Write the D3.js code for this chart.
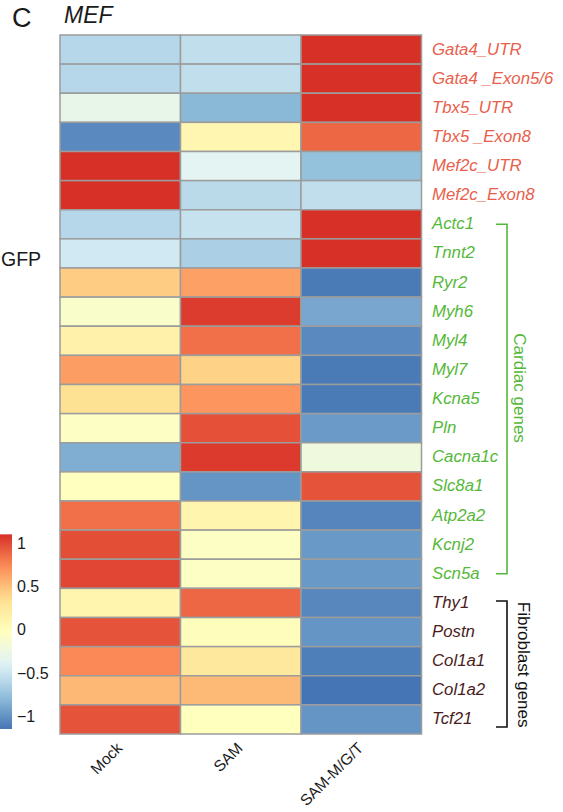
<!DOCTYPE html>
<html>
<head>
<meta charset="utf-8">
<script src="https://cdn.jsdelivr.net/npm/d3@7"></script>
<style>
  html, body { margin: 0; padding: 0; background: #ffffff; }
  svg { display: block; }
  text { font-family: "Liberation Sans", Arial, Helvetica, sans-serif; }
</style>
</head>
<body>
<svg id="chart" width="563" height="812"></svg>
<script>
// Row-scaled expression (z-scores) per gene across the three conditions
const conditions = ["Mock", "SAM", "SAM-M/G/T"];
const genes = [
  "Gata4_UTR", "Gata4 _Exon5/6", "Tbx5_UTR", "Tbx5 _Exon8", "Mef2c_UTR", "Mef2c_Exon8",
  "Actc1", "Tnnt2", "Ryr2", "Myh6", "Myl4", "Myl7", "Kcna5", "Pln", "Cacna1c",
  "Slc8a1", "Atp2a2", "Kcnj2", "Scn5a",
  "Thy1", "Postn", "Col1a1", "Col1a2", "Tcf21"
];
const mockValues = [-0.60, -0.60, -0.30, -1.05, 1.10, 1.10, -0.60, -0.47, 0.44, -0.10, 0.14, 0.65,
  0.33, -0.06, -0.86, -0.03, 0.84, 0.98, 1.01, 0.10, 0.96, 0.74, 0.53, 0.96];
const samValues = [-0.55, -0.55, -0.81, 0.08, -0.36, -0.58, -0.52, -0.65, 0.64, 1.05, 0.84, 0.41,
  0.69, 0.97, 1.06, -0.99, 0.10, -0.05, -0.06, 0.88, 0.00, 0.25, 0.52, -0.02];
const mgtValues = [1.10, 1.10, 1.10, 0.88, -0.76, -0.55, 1.10, 1.10, -1.12, -0.90, -1.05, -1.12,
  -1.12, -0.96, -0.22, 0.96, -1.07, -0.97, -0.97, -1.06, -0.99, -1.10, -1.15, -0.99];
const legendTicks = [1, 0.5, 0, -0.5, -1];

// Gene groups (colour of row labels and side brackets)
const markerGenes = ["Gata4_UTR", "Gata4 _Exon5/6", "Tbx5_UTR", "Tbx5 _Exon8", "Mef2c_UTR", "Mef2c_Exon8"];
const cardiacGenes = ["Actc1", "Tnnt2", "Ryr2", "Myh6", "Myl4", "Myl7", "Kcna5", "Pln", "Cacna1c",
  "Slc8a1", "Atp2a2", "Kcnj2", "Scn5a"];
const fibroblastGenes = ["Thy1", "Postn", "Col1a1", "Col1a2", "Tcf21"];

const palette = ["#4575B4", "#91BFDB", "#E0F3F8", "#FFFFBF", "#FEE090", "#FC8D59", "#D73027"];
const markerColor = "#E8604C", cardiacColor = "#55B83A", fibroColor = "#4A1C1C";

const seriesByCondition = [mockValues, samValues, mgtValues];
const cells = [];
genes.forEach((g, i) => conditions.forEach((c, j) => cells.push({ gene: g, cond: c, value: seriesByCondition[j][i] })));

const svg = d3.select("#chart");

const x = d3.scaleBand().domain(conditions).range([60, 421.5]).padding(0);
const y = d3.scaleBand().domain(genes).range([35, 734]).padding(0);

const [vmin, vmax] = d3.extent(cells, d => d.value);
const color = d3.scaleLinear()
  .domain(palette.map((_, k) => vmin + k * (vmax - vmin) / (palette.length - 1)))
  .range(palette)
  .interpolate(d3.interpolateRgb);

// Heatmap cells
svg.append("g").selectAll("rect").data(cells).join("rect")
  .attr("x", d => x(d.cond))
  .attr("y", d => y(d.gene))
  .attr("width", x.bandwidth())
  .attr("height", y.bandwidth())
  .attr("fill", d => color(d.value))
  .attr("stroke", "#9c9c9c")
  .attr("stroke-width", 1.5);

// Row labels
const labelColor = g => markerGenes.includes(g) ? markerColor : cardiacGenes.includes(g) ? cardiacColor : fibroColor;
svg.append("g").selectAll("text").data(genes).join("text")
  .attr("x", 432)
  .attr("y", g => y(g) + y.bandwidth() / 2)
  .attr("dy", "0.3em")
  .attr("font-size", 16.8)
  .attr("font-style", "italic")
  .attr("fill", g => labelColor(g))
  .style("white-space", "pre")
  .text(g => g);

// Column labels
svg.append("g").selectAll("text").data(conditions).join("text")
  .attr("transform", c => `translate(${x(c) + x.bandwidth() / 2 + 3},749) rotate(-45)`)
  .attr("text-anchor", "end")
  .attr("font-size", 15.5)
  .attr("fill", "#1a1a1a")
  .text(c => c);

// Group brackets
const mid = g => y(g) + y.bandwidth() / 2;
function bracket(top, bottom, stroke) {
  svg.append("path")
    .attr("d", `M496,${top}H507V${bottom}H496`)
    .attr("fill", "none")
    .attr("stroke", stroke)
    .attr("stroke-width", 1.6);
}
bracket(mid("Actc1"), mid("Scn5a"), cardiacColor);
bracket(mid("Thy1") - 2, mid("Tcf21") + 7.5, "#111");

svg.append("text")
  .attr("transform", `translate(519,${(mid("Actc1") + mid("Scn5a")) / 2 - 11}) rotate(90)`)
  .attr("text-anchor", "middle")
  .attr("dominant-baseline", "central")
  .attr("font-size", 17)
  .attr("fill", cardiacColor)
  .text("Cardiac genes");

svg.append("text")
  .attr("transform", `translate(523,${(mid("Thy1") + mid("Tcf21")) / 2 + 3.5}) rotate(90)`)
  .attr("text-anchor", "middle")
  .attr("dominant-baseline", "central")
  .attr("font-size", 17)
  .attr("fill", "#111")
  .text("Fibroblast genes");

// Colour legend
const legendY = d3.scaleLinear().domain([-1, 1]).range([716, 543]);
const defs = svg.append("defs");
const grad = defs.append("linearGradient")
  .attr("id", "legendGrad")
  .attr("x1", 0).attr("y1", 1).attr("x2", 0).attr("y2", 0);
d3.range(0, 1.0001, 0.05).forEach(t => {
  grad.append("stop")
    .attr("offset", t)
    .attr("stop-color", color(vmin + t * (vmax - vmin)));
});
svg.append("rect")
  .attr("x", 0)
  .attr("y", legendY(vmax))
  .attr("width", 12)
  .attr("height", legendY(vmin) - legendY(vmax))
  .attr("fill", "url(#legendGrad)");

svg.append("g").selectAll("text").data(legendTicks).join("text")
  .attr("x", 17)
  .attr("y", v => legendY(v))
  .attr("dy", "0.36em")
  .attr("font-size", 16)
  .attr("fill", "#1a1a1a")
  .text(v => d3.format("")(v).replace("-", "\u2212"));

// Titles
svg.append("text").attr("x", 12).attr("y", 27).attr("font-size", 27).attr("fill", "#1a1a1a").text("C");
svg.append("text").attr("x", 64).attr("y", 23).attr("font-size", 23).attr("font-style", "italic")
  .attr("fill", "#1a1a1a").text("MEF");
svg.append("text").attr("x", 1).attr("y", 266).attr("font-size", 19.5).attr("fill", "#1a1a1a").text("GFP");
</script>
</body>
</html>
